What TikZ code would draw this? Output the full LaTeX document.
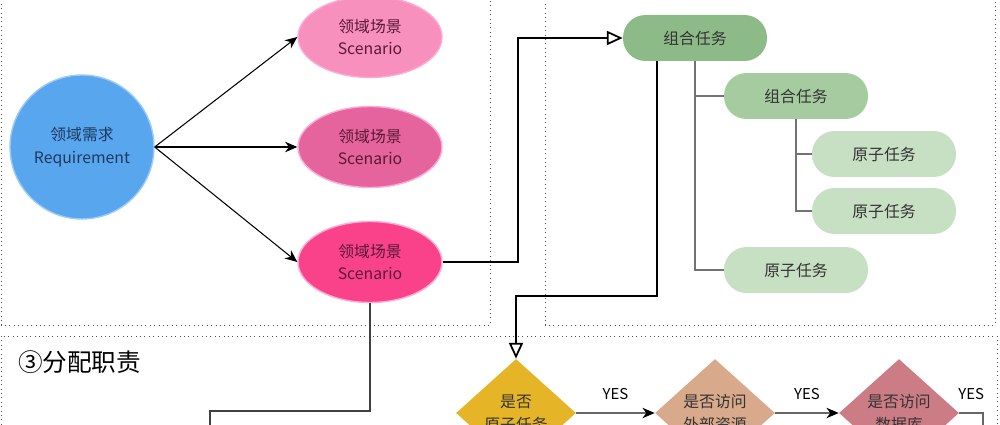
\documentclass[tikz,border=0pt]{standalone}
\usepackage{fontspec}
\newfontfamily\cjk{Noto Sans CJK SC}
\usetikzlibrary{arrows.meta,shapes.geometric}
\definecolor{reqblue}{HTML}{58A6EE}
\definecolor{reqtext}{HTML}{1F3A5F}
\definecolor{scenA}{HTML}{F890BD}
\definecolor{scenB}{HTML}{E5649D}
\definecolor{scenC}{HTML}{F9428A}
\definecolor{scentext}{HTML}{5A1A36}
\definecolor{glow}{HTML}{FFA8D4}
\definecolor{taskA}{HTML}{8DBB88}
\definecolor{taskB}{HTML}{A6CBA0}
\definecolor{taskC}{HTML}{C7DFC2}
\definecolor{decA}{HTML}{E5B427}
\definecolor{decB}{HTML}{D9A98B}
\definecolor{decC}{HTML}{CC7C84}
\tikzset{
  every node/.style={font=\cjk\fontsize{9}{13}\selectfont},
  scen/.style={ellipse, fill=#1, draw=glow, line width=0.8pt, minimum width=2.88cm,
    minimum height=1.62cm, inner sep=0pt, align=center, text=scentext},
  task/.style={rectangle, rounded corners=0.45cm, fill=#1, minimum width=2.88cm,
    minimum height=0.92cm, inner sep=0pt, text=black!80},
  decide/.style={diamond, fill=#1, minimum width=2.4cm, minimum height=2.16cm,
    inner sep=0pt, align=center, text=black!80},
  frame/.style={dotted, draw=black!70, line width=0.5pt},
  tree/.style={draw=black!55, line width=0.8pt},
  flow/.style={draw=black, line width=1pt}
}
\begin{document}
\begin{tikzpicture}[x=0.02cm, y=-0.02cm]
      \useasboundingbox (0,0) rectangle (1000,425);
      % frames
      \draw[frame] (1,-5) rectangle (490,325);
      \draw[frame] (545,-5) rectangle (995,325);
      \draw[frame] (1,336) rectangle (997,440);
      \node[anchor=west, font=\cjk\fontsize{14}{16}\selectfont] (title) at (12,362) {③分配职责};
      % requirement and scenarios
      \node[circle, fill=reqblue, draw=reqblue!60!white, line width=0.8pt, minimum size=2.88cm,
        inner sep=0pt, align=center, text=reqtext] (req) at (82,147) {领域需求\\Requirement};
      \node[scen=scenA] (sc1) at (370,37) {领域场景\\Scenario};
      \node[scen=scenB] (sc2) at (370,147) {领域场景\\Scenario};
      \node[scen=scenC] (sc3) at (370,262) {领域场景\\Scenario};
      \foreach \i in {1,2,3} {
	\draw[-{Stealth[length=7pt,width=6pt]}, line width=0.6pt] (req.east) -- (sc\i.west);
      };
      % tasks
      \node[task=taskA] (t1) at (695,38) {组合任务};
      \node[task=taskB] (t2) at (796,96) {组合任务};
      \node[task=taskC] (a1) at (884,154) {原子任务};
      \node[task=taskC] (a2) at (884,211) {原子任务};
      \node[task=taskC] (a3) at (796,270) {原子任务};
      \foreach \i/\j in {t1/t2, t1/a3, t2/a1, t2/a2} {
	\draw[tree] (\i.south) |- (\j.west);
      };
      % decisions
      \node[decide=decA] (d1) at (516,413) {是否\\原子任务};
      \node[decide=decB] (d2) at (715,413) {是否访问\\外部资源};
      \node[decide=decC] (d3) at (899,413) {是否访问\\数据库};
      \foreach \i/\j in {d1/d2, d2/d3} {
	\draw[draw=black!60, line width=0.8pt, -{Stealth[black,length=7pt,width=6pt]}]
	  (\i.east) -- node[above=4pt, font=\cjk\fontsize{8.5}{10}\selectfont] {YES} (\j.west);
      };
      \coordinate (d3out) at (983,440);
      \draw[draw=black!60, line width=0.8pt] (d3.east) -| node[pos=0.25, above=4pt,
        font=\cjk\fontsize{8.5}{10}\selectfont] {YES} (d3out);
      % flow lines
      \coordinate (k1) at (518,38);
      \draw[flow, -{Triangle[open,length=9pt,width=8pt]}] (sc3.east) -| (k1) -- (t1.west);
      \coordinate (k2) at (657,296);
      \coordinate (k3) at (516,296);
      \draw[flow, -{Triangle[open,length=9pt,width=8pt]}] (k2 |- t1.south) -- (k2) -- (k3) -- (d1.north);
      \coordinate (k4) at (210,411);
      \coordinate (k5) at (210,440);
      \draw[draw=black!75, line width=0.8pt] (sc3.south) |- (k4) -- (k5);
\end{tikzpicture}
\end{document}
